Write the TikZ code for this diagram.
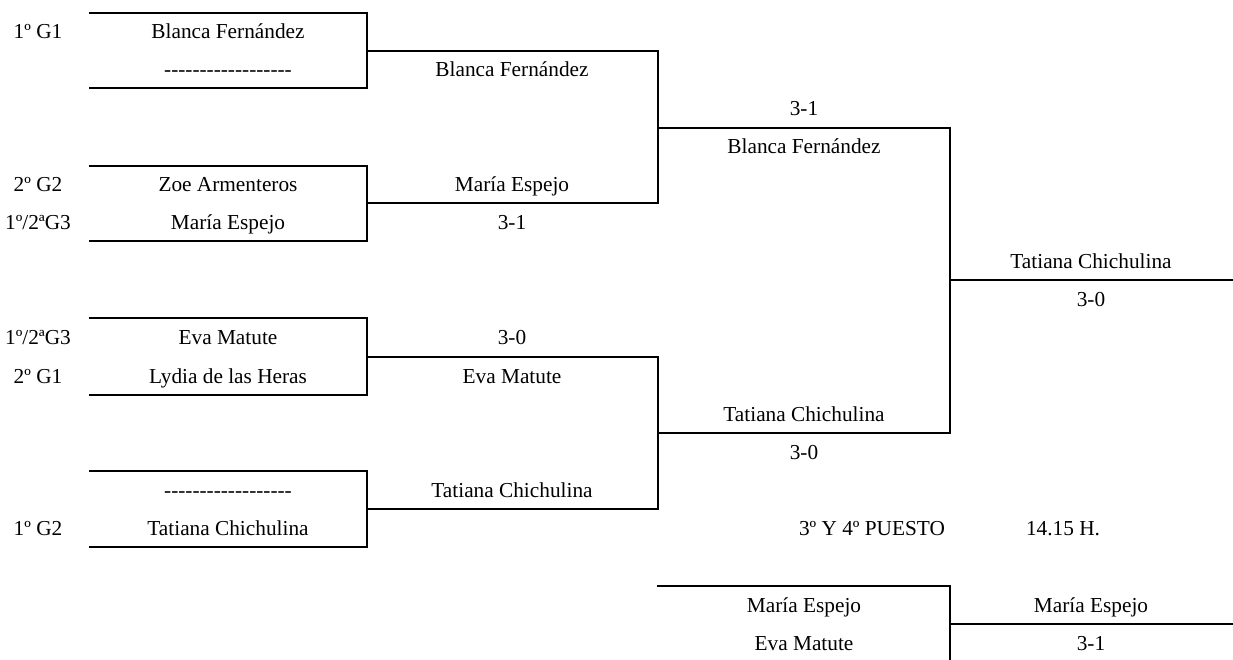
\documentclass[tikz,border=0pt]{standalone}
\usepackage{fontspec}
\setmainfont{Liberation Serif}
\newcommand\blankdash{\mbox{-}\mbox{-}\mbox{-}\mbox{-}\mbox{-}\mbox{-}\mbox{-}\mbox{-}\mbox{-}\mbox{-}\mbox{-}\mbox{-}\mbox{-}\mbox{-}\mbox{-}\mbox{-}\mbox{-}\mbox{-}}
\tikzset{
  lbl/.style={anchor=base, inner sep=0pt, outer sep=0pt, font=\fontsize{21.3bp}{25bp}\selectfont},
  brk/.style={line width=2bp, line join=miter, line cap=rect}
}
\begin{document}
\begin{tikzpicture}[x=1bp, y=-1bp]
\useasboundingbox (0,0) rectangle (1233,660);
% coordinates
\coordinate (b1a) at (90,13);  \coordinate (b1b) at (367,13);  \coordinate (b1c) at (367,88);  \coordinate (b1d) at (90,88);
\coordinate (b2a) at (90,166); \coordinate (b2b) at (367,166); \coordinate (b2c) at (367,241); \coordinate (b2d) at (90,241);
\coordinate (b3a) at (90,318); \coordinate (b3b) at (367,318); \coordinate (b3c) at (367,395); \coordinate (b3d) at (90,395);
\coordinate (b4a) at (90,471); \coordinate (b4b) at (367,471); \coordinate (b4c) at (367,547); \coordinate (b4d) at (90,547);
\coordinate (m1) at (367,51);  \coordinate (m2) at (367,203); \coordinate (m3) at (367,357); \coordinate (m4) at (367,509);
\coordinate (r1) at (658,51);  \coordinate (r2) at (658,203); \coordinate (r3) at (658,357); \coordinate (r4) at (658,509);
\coordinate (q1) at (658,128); \coordinate (q2) at (658,433);
\coordinate (s1) at (950,128); \coordinate (s2) at (950,433);
\coordinate (f1) at (950,280); \coordinate (f2) at (1233,280);
\coordinate (t1) at (658,586); \coordinate (t2) at (950,586); \coordinate (t3) at (950,660);
\coordinate (t4) at (950,624); \coordinate (t5) at (1233,624);
% boxes
\draw[brk] (b1a) -- (b1b) -- (b1c) -- (b1d);
\draw[brk] (b2a) -- (b2b) -- (b2c) -- (b2d);
\draw[brk] (b3a) -- (b3b) -- (b3c) -- (b3d);
\draw[brk] (b4a) -- (b4b) -- (b4c) -- (b4d);
% round 2
\draw[brk] (m1) -- (r1) -- (r2) -- (m2);
\draw[brk] (m3) -- (r3) -- (r4) -- (m4);
\draw[brk] (q1) -- (s1) -- (s2) -- (q2);
\draw[brk] (f1) -- (f2);
% third place
\draw[brk] (t1) -- (t2) -- (t3);
\draw[brk] (t4) -- (t5);
% left labels
\node[lbl] (l1) at (38,39)  {1º G1};
\node[lbl] (l2) at (38,192) {2º G2};
\node[lbl] (l3) at (38,230) {1º/2ªG3};
\node[lbl] (l4) at (38,344) {1º/2ªG3};
\node[lbl] (l5) at (38,383) {2º G1};
\node[lbl] (l6) at (38,535) {1º G2};
% box names
\node[lbl] (n1) at (228,39)  {Blanca Fernández};
\node[lbl] (n2) at (228,77)  {\blankdash};
\node[lbl] (n3) at (228,192) {Zoe Armenteros};
\node[lbl] (n4) at (228,230) {María Espejo};
\node[lbl] (n5) at (228,344) {Eva Matute};
\node[lbl] (n6) at (228,383) {Lydia de las Heras};
\node[lbl] (n7) at (228,497) {\blankdash};
\node[lbl] (n8) at (228,535) {Tatiana Chichulina};
% round 2 labels
\node[lbl] (q1a) at (512,77)  {Blanca Fernández};
\node[lbl] (q2a) at (512,192) {María Espejo};
\node[lbl] (q2b) at (512,230) {3-1};
\node[lbl] (q3b) at (512,344) {3-0};
\node[lbl] (q3a) at (512,383) {Eva Matute};
\node[lbl] (q4a) at (512,497) {Tatiana Chichulina};
% semifinal labels
\node[lbl] (s1b) at (804,116) {3-1};
\node[lbl] (s1a) at (804,154) {Blanca Fernández};
\node[lbl] (s2a) at (804,421) {Tatiana Chichulina};
\node[lbl] (s2b) at (804,459) {3-0};
% final
\node[lbl] (fa) at (1091,268) {Tatiana Chichulina};
\node[lbl] (fb) at (1091,306) {3-0};
% third place
\node[lbl] (tt) at (872,535)  {3º Y 4º PUESTO};
\node[lbl] (th) at (1063,535) {14.15 H.};
\node[lbl] (ta) at (804,612)  {María Espejo};
\node[lbl] (tb) at (804,650)  {Eva Matute};
\node[lbl] (tw) at (1091,612) {María Espejo};
\node[lbl] (ts) at (1091,650) {3-1};
\end{tikzpicture}
\end{document}
